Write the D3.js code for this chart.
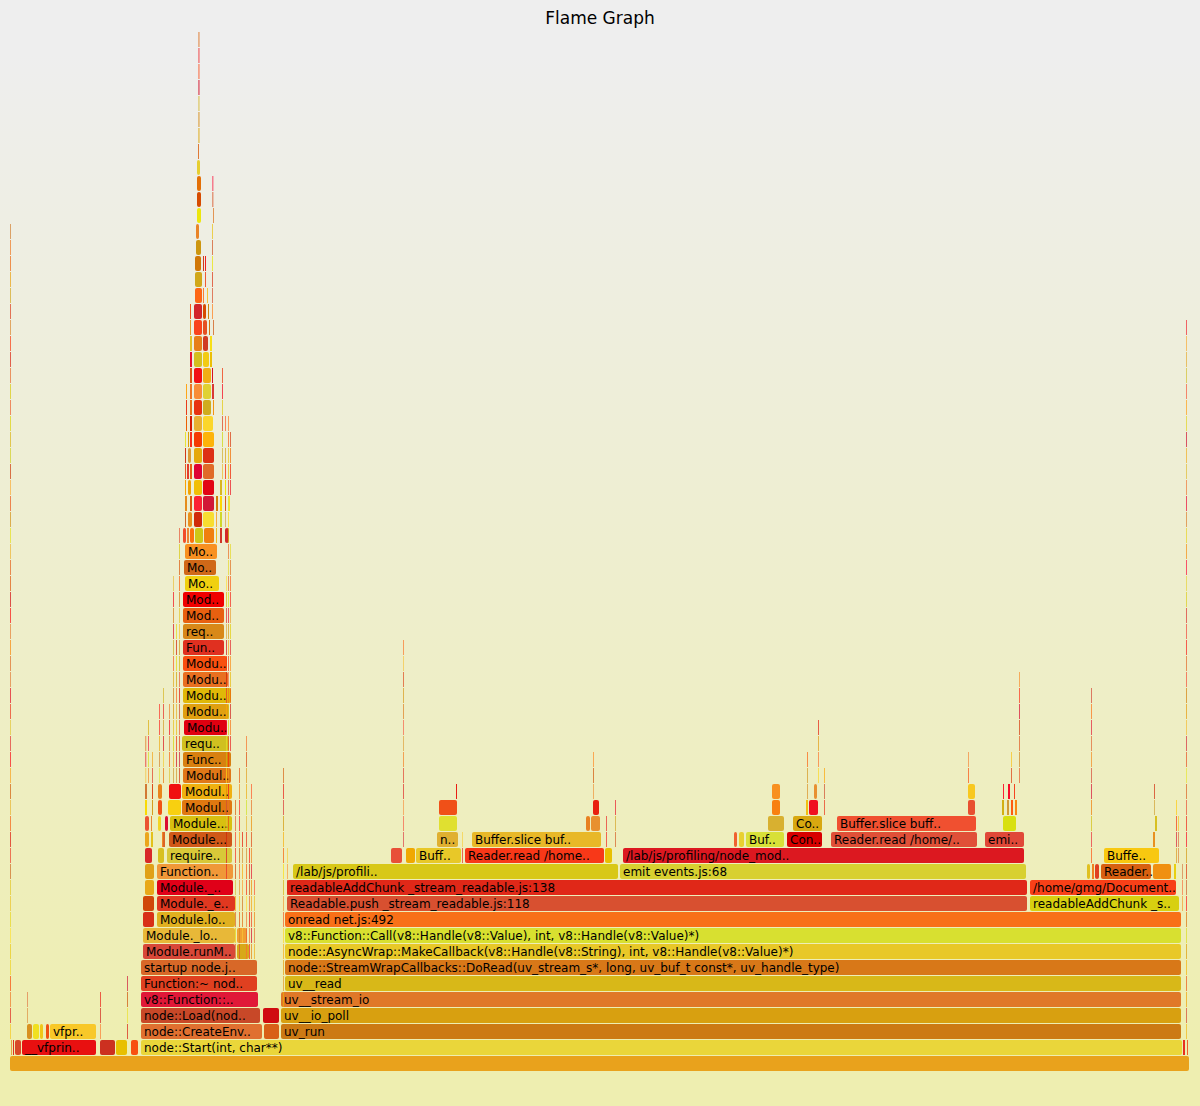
<!DOCTYPE html>
<html><head><meta charset="utf-8">
<script src="https://cdn.jsdelivr.net/npm/d3@7"></script>
<style>body{margin:0;background:#fff}svg{display:block}</style>
</head><body>
<svg id="chart" width="1200" height="1106"></svg>
<script>
// ---------- DATA (samples; root = 1180 samples) ----------
const totalSamples = 1180;
const maxDepth = 64;
const chartTitle = "Flame Graph";

// [depth, startSample, widthSamples, label]
const baseFrames = [
 [0,0,1180,''],
 [1,1,2,''],[1,3,2,''],[1,5,7,''],[1,12,75,'__vfprin..'],[1,90,16,''],[1,106,12,''],[1,121,8,''],[1,131,1042,'node::Start(int, char**)'],[1,1173,3,''],[1,1177,2,''],
 [2,17,6,''],[2,23,7,''],[2,30,4,''],[2,36,4,''],[2,40,47,'vfpr..'],[2,131,122,'node::CreateEnv..'],[2,254,16,''],[2,271,901,'uv_run'],
 [3,131,120,'node::Load(nod..'],[3,253,17,''],[3,271,901,'uv__io_poll'],
 [4,131,118,'v8::Function::..'],[4,271,901,'uv__stream_io'],
 [5,131,117,'Function:~ nod..'],[5,275,897,'uv__read'],
 [6,131,117,'startup node.j..'],[6,275,897,'node::StreamWrapCallbacks::DoRead(uv_stream_s*, long, uv_buf_t const*, uv_handle_type)'],
 [7,133,93,'Module.runM..'],[7,227,13,''],[7,275,897,'node::AsyncWrap::MakeCallback(v8::Handle(v8::String), int, v8::Handle(v8::Value)*)'],
 [8,133,93,'Module._lo..'],[8,227,11,''],[8,275,897,'v8::Function::Call(v8::Handle(v8::Value), int, v8::Handle(v8::Value)*)'],
 [9,133,12,''],[9,147,79,'Module.lo..'],[9,275,897,'onread net.js:492'],
 [10,133,12,''],[10,147,79,'Module._e..'],[10,277,741,'Readable.push _stream_readable.js:118'],[10,1020,150,'readableAddChunk _s..'],
 [11,135,10,''],[11,147,77,'Module._..'],[11,277,741,'readableAddChunk _stream_readable.js:138'],[11,1020,147,'/home/gmg/Document..'],
 [12,135,10,''],[12,147,77,'Function..'],[12,283,326,'/lab/js/profili..'],[12,610,407,'emit events.js:68']
];

const towerFrames = [
 [13,135,8,''],[13,148,7,''],[13,157,66,'require..'],
 [14,135,5,''],[14,141,3,''],[14,152,2,''],[14,153,3,''],[14,159,64,'Module...'],
 [15,135,5,''],[15,141,2,''],[15,148,4,''],[15,155,4,''],[15,160,63,'Module...'],
 [16,135,3,''],[16,142,2,''],[16,148,5,''],[16,158,14,''],[16,172,51,'Modul..'],
 [17,135,3,''],[17,142,2,''],[17,148,5,''],[17,159,13,''],[17,172,51,'Modul..'],
 [18,173,49,'Modul..'],[19,173,49,'Func..'],[20,172,48,'requ..'],[21,174,44,'Modu..'],
 [22,173,47,'Modu..'],[23,173,49,'Modu..'],[24,173,46,'Modu..'],[25,173,45,'Modu..'],
 [26,173,42,'Fun..'],[27,173,42,'req..'],[28,173,42,'Mod..'],[29,173,42,'Mod..'],
 [30,175,35,'Mo..'],[31,174,33,'Mo..'],[32,175,33,'Mo..']
];

const towerTipFrames = [
 [33,173,4,''],[33,177,3,''],[33,180,5,''],[33,185,9,''],[33,194,11,''],[33,206,2,''],[33,210,3,''],[33,215,5,''],
 [34,175,2,''],[34,178,5,''],[34,184,9,''],[34,193,12,''],[34,206,1,''],[34,210,3,''],[34,215,1.5,''],
 [35,175,3,''],[35,180,3,''],[35,184,9,''],[35,193,12,''],[35,206,3,''],[35,210,3,''],[35,215,2,''],[35,219,2,''],
 [36,175,2,''],[36,178,4,''],[36,184,9,''],[36,193,12,''],[36,210,3,''],[36,215,2,''],[36,220,1,''],
 [37,175,2,''],[37,177,3,''],[37,180,3,''],[37,184,9,''],[37,193,12,''],[37,212,1,''],[37,215,1,''],[37,220,1,''],
 [38,175,2,''],[38,178,4,''],[38,184,9,''],[38,193,12,''],[38,212,1,''],[38,215,1,''],[38,220,1,''],
 [39,175,2,''],[39,178,2,''],[39,180,3,''],[39,184,9,''],[39,193,12,''],[39,212,1,''],[39,220,1,''],
 [40,176,2,''],[40,180,3,''],[40,184,9,''],[40,193,11,''],[40,212,1,''],[40,215,1,''],
 [41,176,2,''],[41,180,3,''],[41,184,9,''],[41,193,9,''],[41,203,2,''],[41,212,1,''],
 [42,176,2,''],[42,180,3,''],[42,184,9,''],[42,193,9,''],[42,202,3,''],[42,212,1,''],
 [43,180,3,''],[43,184,9,''],[43,193,9,''],[43,202,2,''],[43,212,1,''],
 [44,180,3,''],[44,184,9,''],[44,193,7,''],[44,200,3,''],
 [45,180,3,''],[45,184,9,''],[45,193,6,''],[45,200,3,''],
 [46,180,2,''],[46,184,9,''],[46,193,5,''],[46,199,2,''],[46,203,1,''],
 [47,180,2,''],[47,184,9,''],[47,193,4,''],[47,198,2,''],[47,202,1,''],
 [48,185,8,''],[48,193,2,''],[48,197,1,''],[48,202,1,''],
 [49,185,8,''],[49,195,2,''],[49,202,1,''],
 [50,185,7,''],[50,193,2,''],[50,195,2,''],[50,202,1,''],
 [51,186,6,''],[51,202,1,''],[52,186,4,''],[52,202,1,''],[53,187,5,''],[53,203,1,''],
 [54,187,5,''],[55,187,5,''],[56,187,4,''],[57,188,2,'']
];

const readerFrames = [
 [12,1077,4,''],[12,1082,3,''],[12,1085,5,''],[12,1091,51,'Reader..'],[12,1143,19,''],[12,1164,3,''],
 [13,381,12,''],[13,396,10,''],[13,406,46,'Buff..'],[13,455,140,'Reader.read /home..'],[13,595,8,''],[13,613,402,'/lab/js/profiling/node_mod..'],[13,1094,56,'Buffe..'],
 [14,427,22,'n..'],[14,462,130,'Buffer.slice buf..'],[14,724,4,''],[14,729,6,''],[14,736,39,'Buf..'],[14,777,36,'Con..'],[14,821,147,'Reader.read /home/..'],[14,975,40,'emi..'],[14,1143,3,''],
 [15,429,19,''],[15,576,5,''],[15,581,10,''],[15,758,17,''],[15,783,30,'Co..'],[15,827,140,'Buffer.slice buff..'],[15,993,14,''],[15,1145,3,''],
 [16,429,19,''],[16,583,7,''],[16,762,9,''],[16,796,3,''],[16,799,10,''],[16,958,8,''],[16,992,3,''],[16,997,3,''],[16,1001,3,''],[16,1005,3,''],
 [17,762,9,''],[17,804,4,''],[17,958,8,''],[17,446,2,''],[17,993,2,''],[17,998,3,''],[17,1004,2,'']
];

// thin call chains: [startSample, widthSamples, fromDepth, toDepth]
const spikes = [
 [0.3,0.9,2,52],[17,0.8,3,4],[90,0.9,2,4],[117,0.9,2,5],
 [135.5,0.9,18,20],[138,0.9,18,21],[142,0.9,18,19],[149,0.9,18,22],[153,0.9,18,23],
 [159,0.9,18,22],[163,0.9,18,30],[166,0.9,18,27],[169,0.9,18,33],
 [216,0.9,12,30],[218,0.9,15,40],[220,0.9,20,32],[225,0.9,7,16],[229,0.9,7,18],
 [232,0.9,8,14],[236,0.9,7,20],[239,0.9,7,13],[241,0.9,7,17],[244,0.9,7,11],
 [202.5,1,54,55],[188.5,1.2,58,64],
 [273,0.9,4,18],[277,0.8,11,13],[393,0.8,14,26],[452,0.8,13,14],[583,0.9,17,19],[596,1,14,15],[605,0.9,14,16],
 [797,0.9,17,19],[808,0.9,18,21],[814,0.9,16,18],[958,0.9,18,19],[1009,0.9,18,24],[1001,0.9,18,19],
 [1081,0.9,13,23],[1144,0.9,16,17],[1166,0.9,13,16],[1168,0.8,13,15],[1176,0.9,2,46],[1172,0.8,10,12]
];

// ---------- STYLE ----------
const frameFill = {
 '0:0':'#e9a21c',
 '1:1':'#e8a040','1:3':'#e03020','1:5':'#d84828','1:12':'#e81010','1:90':'#cc3020','1:106':'#e8c000','1:121':'#f85010','1:131':'#ead63a','1:1173':'#e83020','1:1177':'#f06030',
 '2:17':'#d89020','2:23':'#f0e020','2:30':'#f0c818','2:36':'#f05010','2:40':'#f8c828','2:131':'#e07030','2:254':'#d86018','2:271':'#cc7a14',
 '3:131':'#c84828','3:253':'#d00c10','3:271':'#d8a010',
 '4:131':'#e01838','4:271':'#e07828',
 '5:131':'#e04020','5:275':'#d8b818',
 '6:131':'#d86828','6:275':'#d87818',
 '7:133':'#d84838','7:227':'#d8a818','7:275':'#e8c828',
 '8:133':'#e8b838','8:227':'#f0a030','8:275':'#d8e030',
 '9:133':'#d83018','9:147':'#e0b020','9:275':'#f87018',
 '10:133':'#d04808','10:147':'#e03820','10:277':'#d85030','10:1020':'#d8d010',
 '11:135':'#e8a818','11:147':'#e00018','11:277':'#e02818','11:1020':'#f84018',
 '12:135':'#e0a018','12:147':'#f09838','12:283':'#d8c818','12:610':'#d8d030','12:1077':'#e0c020','12:1082':'#f08020','12:1085':'#e04020','12:1091':'#d86010','12:1143':'#f09010','12:1164':'#e8d010',
 '13:135':'#d82828','13:148':'#d8c020','13:157':'#d8c838','13:381':'#e85038','13:396':'#f0a800','13:406':'#e8c828','13:455':'#f83818','13:595':'#e8c000','13:613':'#dc1820','13:1094':'#f8c810',
 '14:159':'#d05818','14:427':'#e0b030','14:462':'#e8b828','14:724':'#f06030','14:729':'#e8d030','14:736':'#d8e038','14:777':'#d80000','14:821':'#e05038','14:975':'#e04838','14:1143':'#e89020',
 '15:160':'#d8c010','15:429':'#e0e030','15:576':'#e88020','15:581':'#e89030','15:758':'#d8b030','15:783':'#d8a810','15:827':'#f05030','15:993':'#d8e010','15:1145':'#d8c020',
 '16:158':'#f8d010','16:172':'#e07810','16:429':'#f05018','16:583':'#e82010','16:762':'#f88010','16:796':'#f0c010','16:799':'#f01020','16:958':'#e85030',
 '17:159':'#f01010','17:172':'#f0b010','17:762':'#f89020','17:804':'#e89030','17:958':'#f8c820',
 '18:173':'#e07818','19:173':'#d88010','20:172':'#d0c020','21:174':'#e00010','22:173':'#e0a010','23:173':'#e0b808',
 '24:173':'#e87020','25:173':'#f85010','26:173':'#e03020','27:173':'#d88818','28:173':'#e86010','29:173':'#f00000',
 '30:175':'#f0d010','31:174':'#d06818','32:175':'#f89020'
};

function hotColor(key){
  let h = 2166136261;
  for (let i=0;i<key.length;i++){ h ^= key.charCodeAt(i); h = Math.imul(h, 16777619) >>> 0; }
  const v1 = (h % 997)/997, v2 = ((h>>>8) % 991)/991, v3 = ((h>>>16) % 983)/983;
  const r = 205 + Math.round(50*v3), g = Math.round(230*v1), b = Math.round(55*v2);
  return `rgb(${r},${g},${b})`;
}

// ---------- BUILD ----------
const frames = [];
[baseFrames, towerFrames, towerTipFrames, readerFrames].forEach(list =>
  list.forEach(([depth,start,width,label]) => frames.push({depth,start,width,label})));
spikes.forEach(([start,width,d0,d1]) => {
  for (let d=d0; d<=d1; d++) frames.push({depth:d,start,width,label:''});
});

const svg = d3.select('#chart');
const W = 1200, H = 1106;
const defs = svg.append('defs');
const grad = defs.append('linearGradient').attr('id','bg').attr('x1','0').attr('y1','0').attr('x2','0').attr('y2','1');
grad.append('stop').attr('offset','5%').attr('stop-color','#eeeeee');
grad.append('stop').attr('offset','95%').attr('stop-color','#eeeeb0');
svg.append('rect').attr('width',W).attr('height',H).attr('fill','url(#bg)');

svg.append('text').attr('x',W/2).attr('y',24).attr('text-anchor','middle')
  .attr('font-family','Verdana, "DejaVu Sans", sans-serif').attr('font-size',17).attr('fill','#000')
  .text(chartTitle);

const x = d3.scaleLinear().domain([0,totalSamples]).range([10,1190]);
const y = d3.scaleLinear().domain([0,1]).range([1056,1040]);
const rowH = 15;

const g = svg.append('g');
const nodes = g.selectAll('g.f').data(frames).join('g').attr('class','f');
nodes.append('rect')
  .attr('x', d => x(d.start))
  .attr('y', d => y(d.depth))
  .attr('width', d => { const w = x(d.start+d.width)-x(d.start); return w >= 1.5 ? w-1 : w*0.75; })
  .attr('height', rowH)
  .attr('rx', d => d.width >= 4 ? 2 : 0).attr('ry', d => d.width >= 4 ? 2 : 0)
  .attr('fill', d => frameFill[`${d.depth}:${d.start}`] || hotColor(`${d.depth}:${d.start}:${d.width}`));
nodes.filter(d => d.label).append('text')
  .attr('x', d => x(d.start)+3)
  .attr('y', d => y(d.depth)+11.5)
  .attr('font-family','Verdana, "DejaVu Sans", sans-serif')
  .attr('font-size',12).attr('fill','#000')
  .text(d => d.label);
</script>
</body></html>
